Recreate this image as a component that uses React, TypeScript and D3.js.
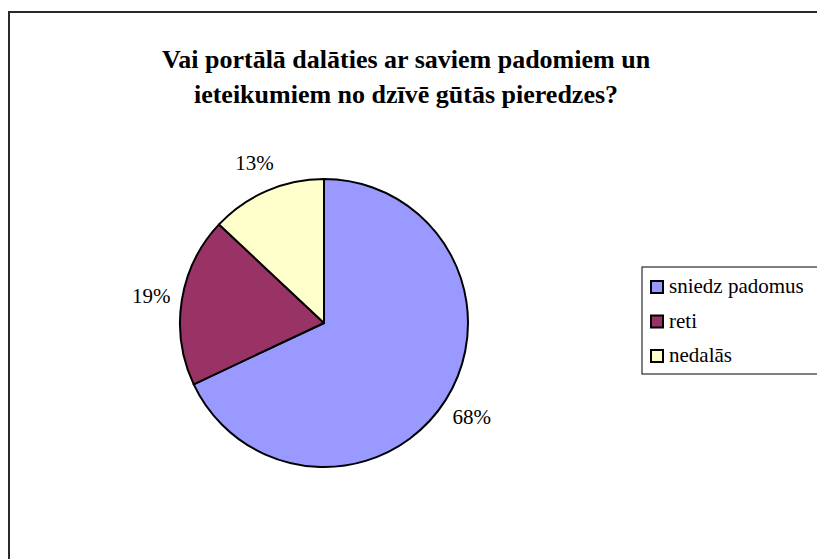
import React from "react";
import * as d3 from "d3";

const categories = ["sniedz padomus", "reti", "nedalās"];
const values = [68, 19, 13];
const labels = ["68%", "19%", "13%"];
const colors = ["#9999FF", "#993366", "#FFFFCC"];
const titleLines = [
  "Vai portālā dalāties ar saviem padomiem un",
  "ieteikumiem no dzīvē gūtās pieredzes?",
];

const W = 817;
const H = 559;
const cx = 324;
const cy = 323;
const R = 144;
const LABEL_R = 175;
const SERIF = "Liberation Serif";

export default function App() {
  const pie = d3
    .pie<number>()
    .sort(null)
    .value((d) => d)
    .startAngle(0)
    .endAngle(2 * Math.PI);
  const arcs = pie(values);
  const arcGen = d3.arc<d3.PieArcDatum<number>>().innerRadius(0).outerRadius(R);
  const labelArc = d3
    .arc<d3.PieArcDatum<number>>()
    .innerRadius(LABEL_R)
    .outerRadius(LABEL_R);

  const legendX = 642;
  const legendY = 267;
  const rowH = 34.5;

  return (
    <svg
      width={W}
      height={H}
      style={{ position: "absolute", left: 0, top: 0, background: "#fff" }}
    >
      <style>{`svg text, svg tspan { font-family: "${SERIF}" !important; }`}</style>
      <rect x={9} y={12} width={840} height={600} fill="#fff" stroke="#2a2a2a" strokeWidth={2} />
      {titleLines.map((t, i) => (
        <text
          key={i}
          x={406}
          y={68 + i * 35}
          textAnchor="middle"
          fontSize={26}
          fontWeight="bold"
          fontFamily={SERIF}
          style={{ fontFamily: SERIF }}
        >
          <tspan fontFamily={SERIF}>{t}</tspan>
        </text>
      ))}
      <g transform={`translate(${cx},${cy})`}>
        {arcs.map((a, i) => (
          <path key={i} d={arcGen(a) || ""} fill={colors[i]} stroke="#000" strokeWidth={2} strokeLinejoin="round" />
        ))}
        {arcs.map((a, i) => {
          const [lx, ly] = labelArc.centroid(a);
          return (
            <text key={"l" + i} x={lx} y={ly} dy="0.35em" textAnchor="middle" fontSize={21} fontFamily={SERIF} style={{ fontFamily: SERIF }}>
              {labels[i]}
            </text>
          );
        })}
      </g>
      <rect x={legendX} y={legendY} width={200} height={107} fill="#fff" stroke="#000" strokeWidth={1} />
      {categories.map((c, i) => (
        <g key={c} transform={`translate(${legendX + 8},${legendY + 13 + i * rowH})`}>
          <rect x={1} y={1} width={12} height={12} fill={colors[i]} stroke="#000" strokeWidth={2} />
          <text x={19} y={13} fontSize={21} fontFamily={SERIF} style={{ fontFamily: SERIF }}>
            <tspan fontFamily={SERIF}>{c}</tspan>
          </text>
        </g>
      ))}
    </svg>
  );
}
